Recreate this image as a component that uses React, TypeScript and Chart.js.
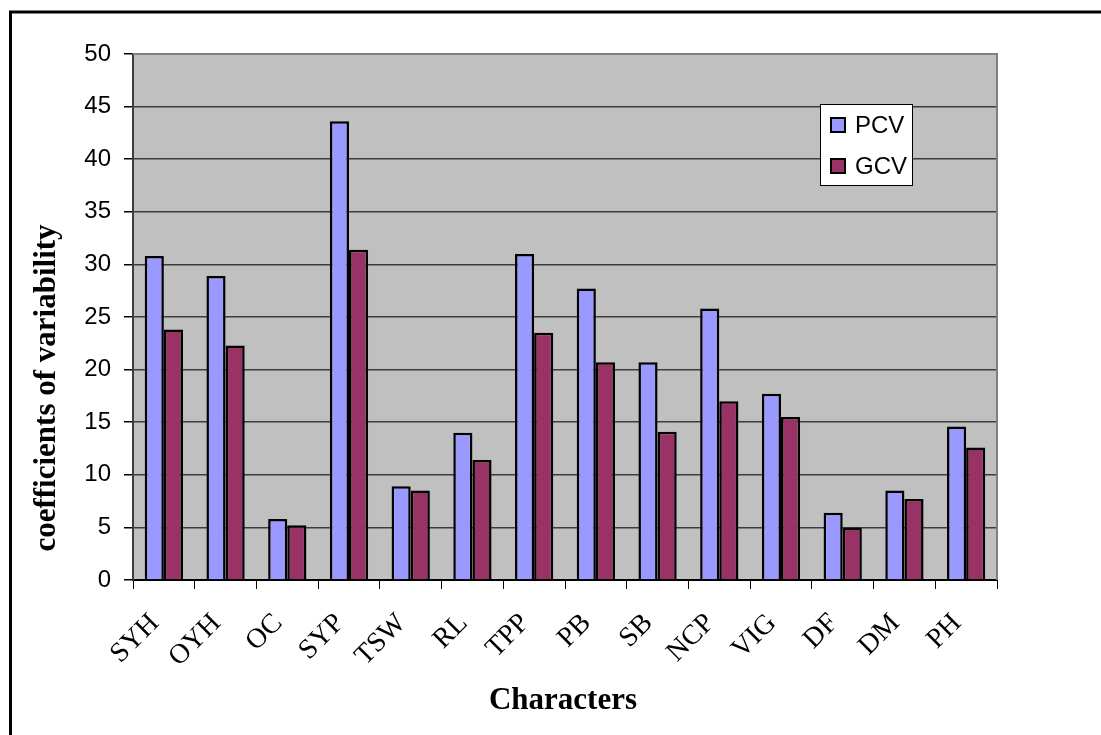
import React, { useEffect, useRef } from "react";
import { Chart, registerables } from "chart.js";

Chart.register(...registerables);

const categories = ["SYH", "OYH", "OC", "SYP", "TSW", "RL", "TPP", "PB", "SB", "NCP", "VIG", "DF", "DM", "PH"];
const pcvValues = [30.8, 28.9, 5.8, 43.6, 8.9, 14.0, 31.0, 27.7, 20.7, 25.8, 17.7, 6.4, 8.5, 14.6];
const gcvValues = [23.8, 22.3, 5.2, 31.4, 8.5, 11.4, 23.5, 20.7, 14.1, 17.0, 15.5, 5.0, 7.7, 12.6];
const seriesNames = ["PCV", "GCV"];
const seriesColors = ["#9999FF", "#993366"];
const yMin = 0;
const yMax = 50;
const yStep = 5;
const yTitle = "coefficients of variability";
const xTitle = "Characters";

const W = 1101;
const H = 735;

const decorPlugin = {
  id: "decor",
  beforeDraw(chart: any) {
    const { ctx, chartArea } = chart;
    ctx.save();
    ctx.fillStyle = "#FFFFFF";
    ctx.fillRect(0, 0, W, H);
    ctx.fillStyle = "#C0C0C0";
    ctx.fillRect(chartArea.left, chartArea.top, chartArea.right - chartArea.left, chartArea.bottom - chartArea.top);
    ctx.restore();
  },
  afterDraw(chart: any) {
    const { ctx, chartArea } = chart;
    ctx.save();
    ctx.strokeStyle = "#808080";
    ctx.lineWidth = 2;
    ctx.beginPath();
    ctx.moveTo(chartArea.left, chartArea.top);
    ctx.lineTo(chartArea.right, chartArea.top);
    ctx.lineTo(chartArea.right, chartArea.bottom);
    ctx.stroke();

    ctx.strokeStyle = "#000000";
    ctx.lineWidth = 3;
    ctx.beginPath();
    ctx.moveTo(10.5, H + 5);
    ctx.lineTo(10.5, 12);
    ctx.lineTo(W + 5, 12);
    ctx.stroke();

    ctx.fillStyle = "#000000";
    ctx.font = "bold 31px 'Liberation Serif', 'Times New Roman', serif";
    ctx.textAlign = "center";
    ctx.textBaseline = "middle";
    ctx.fillText(xTitle, 563, 701);
    ctx.save();
    ctx.translate(47, 388);
    ctx.rotate(-Math.PI / 2);
    ctx.fillText(yTitle, 0, 0);
    ctx.restore();

    const lx = 820, ly = 104, lw = 92, lh = 81;
    ctx.fillStyle = "#FFFFFF";
    ctx.fillRect(lx, ly, lw, lh);
    ctx.strokeStyle = "#000000";
    ctx.lineWidth = 1;
    ctx.strokeRect(lx + 0.5, ly + 0.5, lw, lh);
    ctx.font = "24px 'Liberation Sans', Arial, sans-serif";
    ctx.textAlign = "left";
    ctx.textBaseline = "middle";
    const rows = [125, 166];
    seriesNames.forEach((name, i) => {
      ctx.fillStyle = seriesColors[i];
      ctx.fillRect(831, rows[i] - 7, 14, 14);
      ctx.strokeStyle = "#000000";
      ctx.lineWidth = 2;
      ctx.strokeRect(831, rows[i] - 7, 14, 14);
      ctx.fillStyle = "#000000";
      ctx.fillText(name, 855, rows[i] + 1);
    });
    ctx.restore();
  },
};

export default function App() {
  const ref = useRef<HTMLCanvasElement | null>(null);
  useEffect(() => {
    if (!ref.current) return;
    const chart = new Chart(ref.current, {
      type: "bar",
      data: {
        labels: categories,
        datasets: [
          {
            label: seriesNames[0],
            data: pcvValues,
            backgroundColor: seriesColors[0],
            borderColor: "#000000",
            borderWidth: 2.5,
            categoryPercentage: 0.62,
            barPercentage: 1,
          },
          {
            label: seriesNames[1],
            data: gcvValues,
            backgroundColor: seriesColors[1],
            borderColor: "#000000",
            borderWidth: 2.5,
            categoryPercentage: 0.62,
            barPercentage: 1,
          },
        ],
      },
      options: {
        responsive: false,
        animation: false,
        events: [],
        layout: { padding: { left: 0, top: 54, right: W - 997, bottom: 0 } },
        plugins: {
          legend: { display: false },
          tooltip: { enabled: false },
          title: { display: false },
        },
        scales: {
          x: {
            offset: true,
            grid: {
              offset: true,
              drawOnChartArea: false,
              drawTicks: true,
              tickLength: 9,
              tickColor: "#000000",
              lineWidth: 1,
            },
            border: { display: true, color: "#000000", width: 2 },
            ticks: {
              color: "#000000",
              font: { family: "'Liberation Serif', 'Times New Roman', serif", size: 28 },
              minRotation: 45,
              maxRotation: 45,
              padding: 18,
              labelOffset: -9,
              autoSkip: false,
            },
            afterFit(scale: any) {
              scale.height = H - 580;
            },
          },
          y: {
            min: yMin,
            max: yMax,
            grid: {
              color: "#3c3c3c",
              lineWidth: 1.5,
              drawTicks: true,
              tickLength: 9,
              tickColor: "#000000",
            },
            border: { display: true, color: "#3c3c3c", width: 2 },
            ticks: {
              stepSize: yStep,
              color: "#000000",
              font: { family: "'Liberation Sans', Arial, sans-serif", size: 24 },
              padding: 13,
            },
            afterFit(scale: any) {
              scale.width = 133;
            },
          },
        },
      },
      plugins: [decorPlugin],
    } as any);
    return () => chart.destroy();
  }, []);
  return (
    <div style={{ position: "absolute", left: 0, top: 0, width: W, height: H, background: "#fff" }}>
      <canvas ref={ref} width={W} height={H} style={{ display: "block", width: W, height: H }} />
    </div>
  );
}
